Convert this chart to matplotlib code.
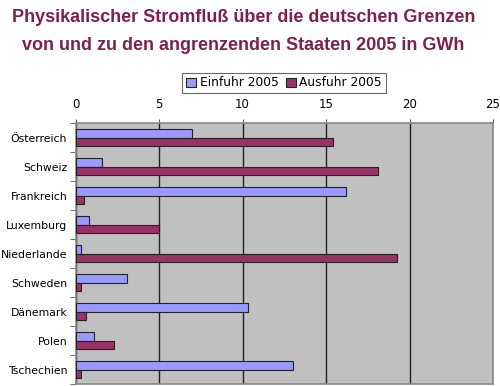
import matplotlib.pyplot as plt
import numpy as np

countries = ['Österreich', 'Schweiz', 'Frankreich', 'Luxemburg', 'Niederlande',
             'Schweden', 'Dänemark', 'Polen', 'Tschechien']
einfuhr = [7.0, 1.6, 16.2, 0.8, 0.3, 3.1, 10.3, 1.1, 13.0]
ausfuhr = [15.4, 18.1, 0.5, 5.0, 19.25, 0.35, 0.6, 2.3, 0.35]
xticks = [0, 5, 10, 15, 20, 25]

title_color = '#7F1F4F'


def main():
    fig = plt.figure(figsize=(5.0, 3.86), dpi=100)
    ax = fig.add_axes([0.151, 0.005, 0.835, 0.676])
    ax.set_facecolor('#C0C0C0')

    y = np.arange(len(countries))
    h = 0.29
    ax.barh(y - h / 2, einfuhr, height=h, color='#9999FF', edgecolor='#222222',
            linewidth=0.8, label='Einfuhr 2005', zorder=3)
    ax.barh(y + h / 2, ausfuhr, height=h, color='#993366', edgecolor='#222222',
            linewidth=0.8, label='Ausfuhr 2005', zorder=3)

    ax.set_xlim(0, 25)
    ax.set_ylim(len(countries) - 0.5, -0.5)
    ax.set_xticks(xticks)
    ax.xaxis.tick_top()
    ax.tick_params(axis='x', length=3, pad=6, labelsize=8.5, color='#555555')
    ax.set_yticks(y)
    ax.set_yticklabels(countries)
    ax.set_yticks(np.arange(len(countries) + 1) - 0.5, minor=True)
    ax.tick_params(axis='y', which='major', length=0, pad=6, labelsize=7.8)
    ax.tick_params(axis='y', which='minor', length=4, color='#555555')
    ax.grid(axis='x', color='#222222', linewidth=1.0, zorder=1)
    for s in ax.spines.values():
        s.set_color('#888888')
        s.set_linewidth(1.2)

    fig.text(0.487, 0.955, 'Physikalischer Stromfluß über die deutschen Grenzen',
             ha='center', va='center', fontsize=13, fontweight='bold',
             family='Liberation Sans', color=title_color)
    fig.text(0.486, 0.883, 'von und zu den angrenzenden Staaten 2005 in GWh',
             ha='center', va='center', fontsize=13, fontweight='bold',
             family='Liberation Sans', color=title_color)

    leg = fig.legend(loc='center', bbox_to_anchor=(0.568, 0.785), ncol=2,
                     fontsize=8.8, frameon=True, fancybox=False, handlelength=0.8,
                     handleheight=0.8, handletextpad=0.3, columnspacing=0.6,
                     borderpad=0.3, borderaxespad=0)
    leg.get_frame().set_edgecolor('#444444')
    leg.get_frame().set_linewidth(0.8)

    fig.savefig('out.png', dpi=100)


if __name__ == '__main__':
    main()
